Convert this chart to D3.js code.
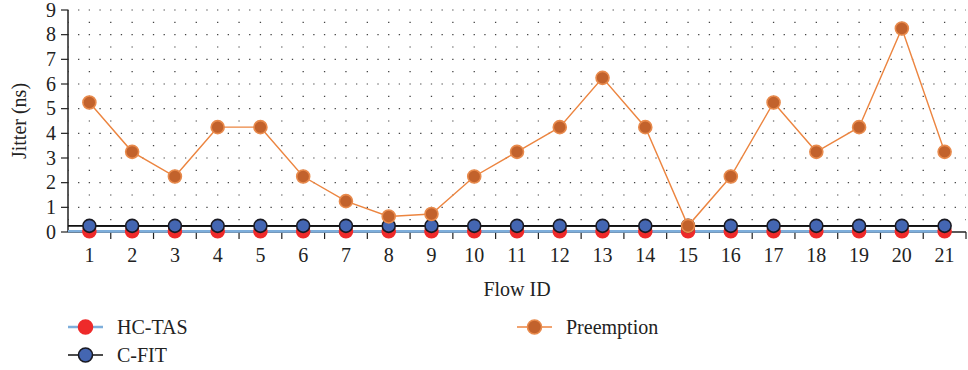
<!DOCTYPE html>
<html><head><meta charset="utf-8">
<script src="https://cdnjs.cloudflare.com/ajax/libs/d3/7.8.5/d3.min.js"></script>
<style>body{margin:0;background:#fff}svg{display:block}</style>
</head><body><svg id="c" width="968" height="370"></svg>
<script>
const flows = d3.range(1, 22).map(String);
const hcTas = [0.03,0.03,0.03,0.03,0.03,0.03,0.03,0.03,0.03,0.03,0.03,0.03,0.03,0.03,0.03,0.03,0.03,0.03,0.03,0.03,0.03];
const cFit = [0.25,0.25,0.25,0.25,0.25,0.25,0.25,0.25,0.25,0.25,0.25,0.25,0.25,0.25,0.25,0.25,0.25,0.25,0.25,0.25,0.25];
const preemption = [5.25,3.25,2.25,4.25,4.25,2.25,1.25,0.63,0.73,2.25,3.25,4.25,6.25,4.25,0.25,2.25,5.25,3.25,4.25,8.25,3.25];
const yTicks = [0,1,2,3,4,5,6,7,8,9];
const seriesNames = ["HC-TAS","C-FIT","Preemption"];

const svg = d3.select("#c");
const FONT = "Liberation Serif";
const FS = 20;
const x = d3.scaleBand().domain(flows).range([68, 966]);
const y = d3.scaleLinear().domain([0, 9]).range([232, 10]);
const cx = d => x(d) + x.bandwidth()/2;

// grid (dotted horizontal rows every 0.5)
const g = svg.append("g");
const hGrid = d3.range(0.5, 9.01, 0.5);
const bw = x.bandwidth();
g.selectAll("line.h").data(hGrid).join("line")
  .attr("x1", x.range()[0]).attr("x2", x.range()[1])
  .attr("y1", d => y(d)).attr("y2", d => y(d))
  .attr("stroke", "#444").attr("stroke-width", 1.2)
  .attr("stroke-dasharray", d => Number.isInteger(d) ? `1.3,${bw/4 - 1.3}` : `1.3,${bw/2 - 1.3}`)
  .attr("stroke-dashoffset", 0.65);

// axes
const ax = svg.append("g").attr("transform", `translate(0,${y(0)})`);
ax.append("line").attr("x1", x.range()[0]).attr("x2", x.range()[1]).attr("stroke", "#222").attr("stroke-width", 1.5);
ax.selectAll("line.t").data(flows).join("line")
  .attr("x1", d => x(d) + x.bandwidth()).attr("x2", d => x(d) + x.bandwidth())
  .attr("y1", 0).attr("y2", 7).attr("stroke", "#222").attr("stroke-width", 1.2);
ax.selectAll("text").data(flows).join("text")
  .attr("x", d => cx(d)).attr("y", 30).attr("text-anchor", "middle")
  .attr("font-family", FONT).attr("fill", "#222")
  .attr("font-size", FS).text(d => d);

const ay = svg.append("g").attr("transform", `translate(${x.range()[0]},0)`);
ay.append("line").attr("y1", y(0)).attr("y2", y(9)).attr("stroke", "#222").attr("stroke-width", 1.5);
ay.selectAll("line.t").data(yTicks).join("line")
  .attr("x1", -7).attr("x2", 0).attr("y1", d => y(d)).attr("y2", d => y(d)).attr("stroke", "#222").attr("stroke-width", 1.2);
ay.selectAll("text").data(yTicks).join("text")
  .attr("x", -12).attr("y", d => y(d) + 6.5).attr("text-anchor", "end")
  .attr("font-family", FONT).attr("fill", "#222")
  .attr("font-size", FS).text(d => d);

svg.append("text").attr("transform", `translate(26,${y(4.5)}) rotate(-90)`)
  .attr("font-family", FONT).attr("fill", "#222")
  .attr("text-anchor", "middle").attr("font-size", FS).text("Jitter (ns)");
svg.append("text").attr("x", 517).attr("y", 296).attr("text-anchor", "middle")
  .attr("font-family", FONT).attr("fill", "#222")
  .attr("font-size", FS).text("Flow ID");

// series
const styles = [
  {data: hcTas, line: "#7eaedb", lw: 2.4, fill: "#ee2a2a", stroke: "#ee2a2a", r: 6.5},
  {data: cFit, line: "#111", lw: 1.6, fill: "#4466b2", stroke: "#1a1a22", r: 6.5},
  {data: preemption, line: "#ec8540", lw: 1.4, fill: "#c2622c", stroke: "#e88a4c", r: 6.5}
];
const line = d3.line().x((d,i) => cx(flows[i])).y(d => y(d));
styles.forEach((s, k) => {
  const sg = svg.append("g");
  if (k < 2) {
    sg.append("line").attr("x1", x.range()[0]).attr("x2", cx(flows[flows.length-1]) + 6)
      .attr("y1", y(s.data[0])).attr("y2", y(s.data[0]))
      .attr("stroke", s.line).attr("stroke-width", s.lw);
  }
  sg.append("path").attr("d", line(s.data)).attr("fill", "none").attr("stroke", s.line).attr("stroke-width", s.lw);
  sg.selectAll("circle").data(s.data).join("circle")
    .attr("cx", (d,i) => cx(flows[i])).attr("cy", d => y(d)).attr("r", s.r)
    .attr("fill", s.fill).attr("stroke", s.stroke).attr("stroke-width", 1.6);
});

// legend
const leg = [
  {name: seriesNames[0], s: styles[0], x: 68, y: 327},
  {name: seriesNames[1], s: styles[1], x: 68, y: 355},
  {name: seriesNames[2], s: styles[2], x: 517, y: 327}
];
leg.forEach(l => {
  const lg = svg.append("g").attr("transform", `translate(${l.x},${l.y})`);
  lg.append("line").attr("x1", 0).attr("x2", 35).attr("stroke", l.s.line).attr("stroke-width", l.s.lw);
  lg.append("circle").attr("cx", 17.5).attr("cy", 0).attr("r", 7).attr("fill", l.s.fill).attr("stroke", l.s.stroke).attr("stroke-width", 1.6);
  lg.append("text").attr("x", 49).attr("y", 7).attr("font-size", FS)
    .attr("font-family", FONT).attr("fill", "#222").text(l.name);
});
</script></body></html>
